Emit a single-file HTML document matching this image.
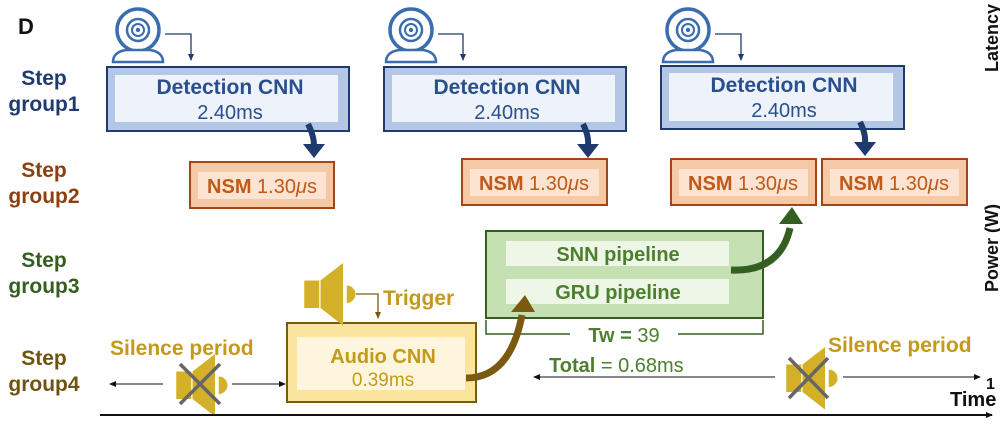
<!DOCTYPE html>
<html><head><style>
body{margin:0;background:#fff;}
svg text{font-family:"Liberation Sans",Arial,sans-serif;}
</style></head><body>
<svg width="1000" height="426" viewBox="0 0 1000 426" xmlns="http://www.w3.org/2000/svg">
<defs>
<marker id="ab" markerWidth="8" markerHeight="8" refX="6" refY="4" orient="auto" markerUnits="userSpaceOnUse"><path d="M0,1 L7,4 L0,7 Z" fill="#1f3b6e"/></marker>
<marker id="ak" markerWidth="8" markerHeight="8" refX="6" refY="4" orient="auto" markerUnits="userSpaceOnUse"><path d="M0,1 L7,4 L0,7 Z" fill="#111"/></marker>
<marker id="ao" markerWidth="8" markerHeight="8" refX="6" refY="4" orient="auto" markerUnits="userSpaceOnUse"><path d="M0,1 L7,4 L0,7 Z" fill="#7a5a10"/></marker>
<g id="cam">
<circle cx="0" cy="0" r="21" fill="#fff" stroke="#3a6db0" stroke-width="3.5"/>
<circle cx="0" cy="0" r="11" fill="none" stroke="#3a6db0" stroke-width="2.5"/>
<circle cx="0" cy="0" r="6" fill="none" stroke="#3a6db0" stroke-width="2"/>
<circle cx="0" cy="0" r="2.2" fill="#3a6db0"/>
<path d="M-25,32 Q-25,22 -12,20 L12,20 Q25,22 25,32 Z" fill="#fff" stroke="#3a6db0" stroke-width="2.5"/>
</g>
<g id="spk"><rect x="-19" y="-10" width="12" height="22" fill="#d4b028"/><path d="M-6,-10 L12,-24 L12,26 L-6,12 Z" fill="#d4b028"/><path d="M15,-6 A7,7 0 0 1 15,8 Z" fill="#d4b028"/></g>
</defs>

<text x="18" y="34" font-size="22" font-weight="bold" fill="#111">D</text>

<g font-size="21" font-weight="bold" text-anchor="middle">
<text x="44" y="85" fill="#1f3b6e">Step</text><text x="44" y="111" fill="#1f3b6e">group1</text>
<text x="44" y="177" fill="#8a4010">Step</text><text x="44" y="203" fill="#8a4010">group2</text>
<text x="44" y="267" fill="#355e22">Step</text><text x="44" y="293" fill="#355e22">group3</text>
<text x="44" y="365" fill="#6e5410">Step</text><text x="44" y="391" fill="#6e5410">group4</text>
</g>

<use href="#cam" x="138" y="30"/>
<use href="#cam" x="411" y="30"/>
<use href="#cam" x="688" y="30"/>
<g fill="none" stroke="#1f3b6e" stroke-width="1.3">
<path d="M165,34 H191 V60" marker-end="url(#ab)"/>
<path d="M438,34 H463 V60" marker-end="url(#ab)"/>
<path d="M715,34 H741 V60" marker-end="url(#ab)"/>
</g>

<g>
<rect x="107" y="67" width="242" height="64" fill="#b3c6e6" stroke="#1f3b6e" stroke-width="2"/>
<rect x="115" y="75" width="223" height="47" fill="#eef3fb"/>
<rect x="384" y="67" width="242" height="64" fill="#b3c6e6" stroke="#1f3b6e" stroke-width="2"/>
<rect x="392" y="75" width="223" height="47" fill="#eef3fb"/>
<rect x="661" y="66" width="243" height="63" fill="#b3c6e6" stroke="#1f3b6e" stroke-width="2"/>
<rect x="669" y="73" width="224" height="48" fill="#eef3fb"/>
</g>
<g text-anchor="middle" fill="#2a4f8e">
<text x="230" y="94" font-size="21" font-weight="bold">Detection CNN</text>
<text x="230" y="119" font-size="20">2.40ms</text>
<text x="507" y="94" font-size="21" font-weight="bold">Detection CNN</text>
<text x="507" y="119" font-size="20">2.40ms</text>
<text x="784" y="92" font-size="21" font-weight="bold">Detection CNN</text>
<text x="784" y="117" font-size="20">2.40ms</text>
</g>
<g fill="none" stroke="#1f3b6e" stroke-width="6">
<path d="M308,124 Q314,136 314,145"/>
<path d="M583,124 Q589,136 588,145"/>
<path d="M860,122 Q866,134 865,143"/>
</g>
<g fill="#1f3b6e">
<path d="M303,144 L325,144 L314,158 Z"/>
<path d="M577,144 L599,144 L588,158 Z"/>
<path d="M854,142 L876,142 L865,156 Z"/>
</g>

<g fill="#f6c9a6" stroke="#a0461a" stroke-width="2">
<rect x="190" y="162" width="144" height="46"/>
<rect x="462" y="159" width="145" height="46"/>
<rect x="671" y="159" width="145" height="46"/>
<rect x="822" y="159" width="145" height="46"/>
</g>
<g fill="#fde4d2">
<rect x="198" y="172" width="128" height="27"/>
<rect x="470" y="169" width="129" height="27"/>
<rect x="679" y="169" width="129" height="27"/>
<rect x="830" y="169" width="129" height="27"/>
</g>
<g font-size="20" fill="#c05a18" text-anchor="middle">
<text x="262" y="193"><tspan font-weight="bold">NSM</tspan> 1.30<tspan font-style="italic">μ</tspan>s</text>
<text x="534" y="190"><tspan font-weight="bold">NSM</tspan> 1.30<tspan font-style="italic">μ</tspan>s</text>
<text x="743" y="190"><tspan font-weight="bold">NSM</tspan> 1.30<tspan font-style="italic">μ</tspan>s</text>
<text x="894" y="190"><tspan font-weight="bold">NSM</tspan> 1.30<tspan font-style="italic">μ</tspan>s</text>
</g>

<rect x="486" y="231" width="277" height="87" fill="#c5e0b3" stroke="#355e22" stroke-width="2"/>
<rect x="506" y="241" width="223" height="25" fill="#eef6e8"/>
<rect x="506" y="279" width="223" height="25" fill="#eef6e8"/>
<g font-size="20" font-weight="bold" fill="#4e7f2e" text-anchor="middle">
<text x="618" y="261">SNN pipeline</text>
<text x="618" y="299">GRU pipeline</text>
</g>
<path d="M731,270 Q780,272 790,228" fill="none" stroke="#355e22" stroke-width="7"/>
<path d="M779,224 L803,224 L792,207 Z" fill="#355e22"/>
<path d="M486,320 V334 H570 M678,334 H763 V320" fill="none" stroke="#355e22" stroke-width="1.5"/>
<text x="624" y="342" font-size="20" fill="#4e7f2e" text-anchor="middle"><tspan font-weight="bold">Tw =</tspan> 39</text>
<text x="549" y="372" font-size="20" fill="#4e7f2e"><tspan font-weight="bold">Total</tspan> = 0.68ms</text>
<line x1="775" y1="377" x2="534" y2="377" stroke="#111" stroke-width="1" marker-end="url(#ak)"/>
<line x1="843" y1="377" x2="980" y2="377" stroke="#111" stroke-width="1" marker-end="url(#ak)"/>

<rect x="287" y="323" width="189" height="79" fill="#fbe49e" stroke="#7a5a10" stroke-width="2"/>
<rect x="297" y="337" width="168" height="53" fill="#fdf6dc"/>
<text x="383" y="363" font-size="20" font-weight="bold" fill="#c49a1a" text-anchor="middle">Audio CNN</text>
<text x="383" y="386" font-size="19" fill="#c49a1a" text-anchor="middle">0.39ms</text>
<path d="M466,378 Q510,378 522,315" fill="none" stroke="#7a5a10" stroke-width="7"/>
<path d="M511,312 L535,312 L525,295 Z" fill="#7a5a10"/>

<use href="#spk" transform="translate(328,293) scale(1.25)"/>
<path d="M356,294 H378 V318" fill="none" stroke="#7a5a10" stroke-width="1.3" marker-end="url(#ao)"/>
<text x="383" y="305" font-size="21" font-weight="bold" fill="#c49a1a">Trigger</text>

<text x="110" y="355" font-size="21" font-weight="bold" fill="#c49a1a">Silence period</text>
<use href="#spk" transform="translate(200,384) scale(1.25)"/>
<path d="M180,364 L220,404 M220,364 L180,404" stroke="#666" stroke-width="3.5"/>
<line x1="163" y1="384" x2="110" y2="384" stroke="#111" stroke-width="1" marker-end="url(#ak)"/>
<line x1="232" y1="384" x2="285" y2="384" stroke="#111" stroke-width="1" marker-end="url(#ak)"/>

<text x="828" y="352" font-size="21" font-weight="bold" fill="#c49a1a">Silence period</text>
<use href="#spk" transform="translate(810,377) scale(1.25)"/>
<path d="M789,358 L828,398 M828,358 L789,398" stroke="#666" stroke-width="3.5"/>

<line x1="100" y1="415" x2="992" y2="415" stroke="#111" stroke-width="2" marker-end="url(#ak)"/>
<text x="950" y="406" font-size="20" font-weight="bold" fill="#111">Time</text>
<text x="986" y="389" font-size="16" font-weight="bold" fill="#111">1</text>
<text transform="translate(998,72) rotate(-90)" font-size="18" font-weight="bold" fill="#111">Latency</text>
<text transform="translate(998,292) rotate(-90)" font-size="18" font-weight="bold" fill="#111">Power (W)</text>
</svg>
</body></html>
